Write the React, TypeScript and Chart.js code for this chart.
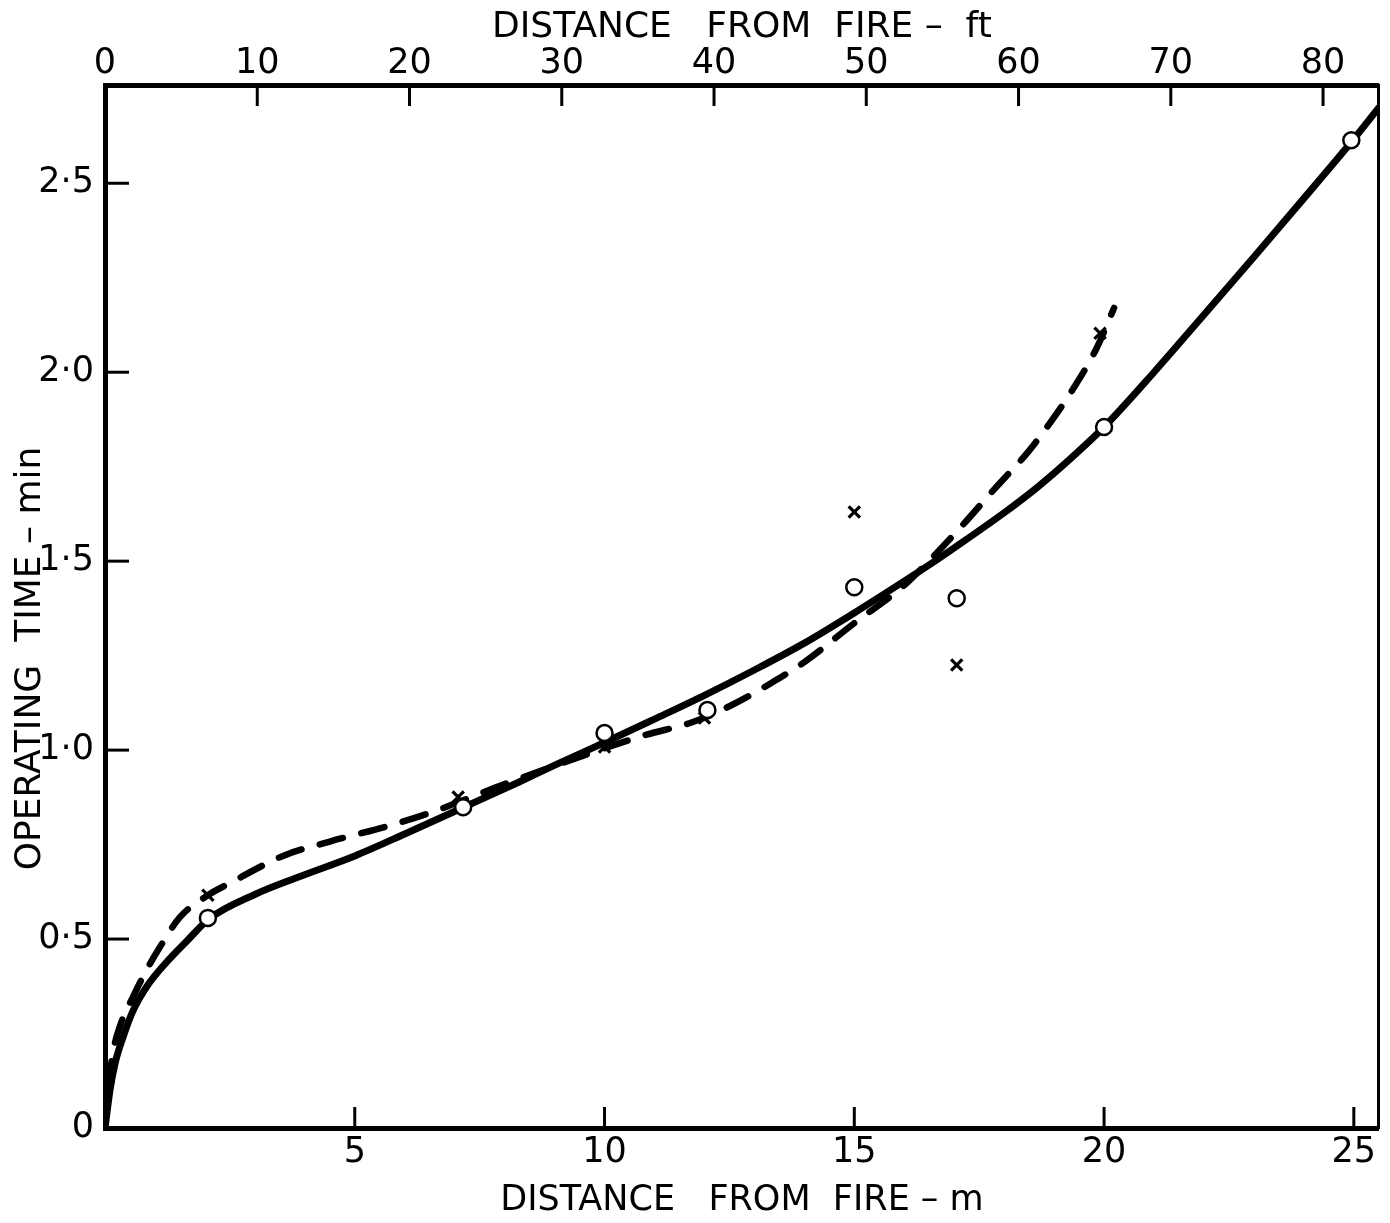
import React, { useEffect, useRef } from 'react';
import { Chart, registerables } from 'chart.js';

Chart.register(...registerables);

const FONT = '"DejaVu Sans", sans-serif';

// Solid curve (distance m, operating time min)
const solidX = [0, 0.1, 0.2, 0.36, 0.56, 0.84, 1.24, 1.64, 2.08, 3.0, 3.89, 5.0, 6.0, 7.17, 8.28, 9.08, 10.0, 11.0, 12.0, 13.0, 14.0, 15.0, 16.0, 16.5, 17.0, 18.0, 18.66, 19.3, 20.0, 21.0, 22.0, 23.0, 24.0, 25.0, 25.5];
const solidY = [0, 0.10, 0.17, 0.24, 0.31, 0.375, 0.44, 0.495, 0.553, 0.618, 0.665, 0.72, 0.778, 0.848, 0.915, 0.965, 1.02, 1.082, 1.145, 1.212, 1.283, 1.363, 1.447, 1.49, 1.535, 1.628, 1.695, 1.768, 1.855, 2.0, 2.152, 2.305, 2.46, 2.617, 2.70];

// Dashed curve
const dashX = [0, 0.08, 0.16, 0.3, 0.56, 0.84, 1.1, 1.5, 2.06, 2.56, 3.09, 3.6, 4.5, 5.69, 6.55, 7.07, 8.0, 9.0, 10.0, 10.82, 11.74, 12.53, 13.33, 14.0, 15.0, 16.0, 16.47, 17.2, 17.8, 18.46, 18.86, 19.4, 19.86, 20.2];
const dashY = [0, 0.12, 0.2, 0.27, 0.347, 0.42, 0.479, 0.558, 0.616, 0.652, 0.69, 0.722, 0.758, 0.80, 0.836, 0.862, 0.91, 0.958, 1.005, 1.04, 1.073, 1.118, 1.177, 1.233, 1.336, 1.436, 1.497, 1.60, 1.69, 1.786, 1.855, 1.96, 2.066, 2.17];

// Open-circle observations
const circleX = [2.06, 7.17, 10.0, 12.06, 15.0, 17.05, 20.0, 24.95];
const circleY = [0.556, 0.849, 1.045, 1.106, 1.431, 1.402, 1.855, 2.614];

// Cross observations
const crossX = [2.06, 7.07, 10.0, 12.0, 15.0, 17.05, 19.92];
const crossY = [0.616, 0.876, 1.008, 1.085, 1.63, 1.225, 2.103];

// Axes
const mTicks = [5, 10, 15, 20, 25];
const ftTicks = [0, 10, 20, 30, 40, 50, 60, 70, 80];
const timeTicks = [0, 0.5, 1, 1.5, 2, 2.5];
const timeLabels = ['0', '0·5', '1·0', '1·5', '2·0', '2·5'];
const X_MAX_M = 25.5;
const Y_MAX = 2.76;
const M_PER_FT = 0.3048;

const xTitle = 'DISTANCE   FROM  FIRE – m';
const x2Title = 'DISTANCE   FROM  FIRE –  ft';
const yTitle = 'OPERATING  TIME – min';

const pts = (xs: number[], ys: number[]) => xs.map((x, i) => ({ x, y: ys[i] }));

const inwardTicks = {
  id: 'inwardTicks',
  afterDraw(chart: any) {
    const { ctx, chartArea: a, scales } = chart;
    ctx.save();
    ctx.strokeStyle = '#000';
    ctx.lineWidth = 3;
    ctx.lineCap = 'butt';
    const line = (x1: number, y1: number, x2: number, y2: number) => {
      ctx.beginPath();
      ctx.moveTo(x1, y1);
      ctx.lineTo(x2, y2);
      ctx.stroke();
    };
    for (const v of mTicks) {
      const px = scales.x.getPixelForValue(v);
      line(px, a.bottom, px, a.bottom - 21);
    }
    for (const v of ftTicks) {
      if (v === 0) continue;
      const px = scales.x2.getPixelForValue(v);
      line(px, a.top, px, a.top + 21);
    }
    for (const v of timeTicks) {
      if (v === 0) continue;
      const py = scales.y.getPixelForValue(v);
      line(a.left, py, a.left + 24, py);
    }
    ctx.restore();
  },
};

const yTitlePlugin = {
  id: 'yTitle',
  afterDraw(chart: any) {
    const { ctx, chartArea: a } = chart;
    ctx.save();
    ctx.translate(31, (a.top + a.bottom) / 2 + 52);
    ctx.rotate(-Math.PI / 2);
    ctx.font = `36px ${FONT}`;
    ctx.fillStyle = '#000';
    ctx.textAlign = 'center';
    ctx.textBaseline = 'middle';
    ctx.fillText(yTitle, 0, 0);
    ctx.restore();
  },
};

export default function App() {
  const ref = useRef<HTMLCanvasElement | null>(null);

  useEffect(() => {
    if (!ref.current) return;
    const tickFont = { family: FONT, size: 35 };
    const chart = new Chart(ref.current, {
      type: 'scatter',
      data: {
        datasets: [
          {
            label: 'circles',
            data: pts(circleX, circleY),
            showLine: false,
            pointStyle: 'circle',
            pointRadius: 8,
            pointBackgroundColor: '#fff',
            pointBorderColor: '#000',
            pointBorderWidth: 2.5,
            order: 0,
          },
          {
            label: 'crosses',
            data: pts(crossX, crossY),
            showLine: false,
            pointStyle: 'crossRot',
            pointRadius: 8,
            pointBorderColor: '#000',
            pointBorderWidth: 3.2,
            order: 0,
          },
          {
            label: 'solid',
            data: pts(solidX, solidY),
            showLine: true,
            borderColor: '#000',
            borderWidth: 7,
            pointRadius: 0,
            cubicInterpolationMode: 'monotone',
            borderCapStyle: 'round',
            borderJoinStyle: 'round',
            order: 1,
          },
          {
            label: 'dashed',
            data: pts(dashX, dashY),
            showLine: true,
            borderColor: '#000',
            borderWidth: 6.5,
            borderDash: [24, 19],
            borderCapStyle: 'round',
            pointRadius: 0,
            cubicInterpolationMode: 'monotone',
            order: 1,
          },
        ],
      } as any,
      options: {
        animation: false,
        responsive: false,
        devicePixelRatio: 1,
        layout: { padding: 0 },
        plugins: { legend: { display: false }, tooltip: { enabled: false } },
        scales: {
          x: {
            type: 'linear',
            position: 'bottom',
            min: 0,
            max: X_MAX_M,
            afterBuildTicks: (s: any) => {
              s.ticks = mTicks.map((v) => ({ value: v }));
            },
            afterFit: (s: any) => {
              s.height = 95;
            },
            grid: { display: false, drawTicks: false },
            border: { display: true, width: 5, color: '#000' },
            ticks: {
              padding: 4,
              color: '#000',
              font: tickFont,
              maxRotation: 0,
              autoSkip: false,
              callback: (v: any) => String(v),
            },
            title: {
              display: true,
              text: xTitle,
              color: '#000',
              font: { family: FONT, size: 35 },
              padding: { top: 0, bottom: 1 },
            },
          },
          x2: {
            type: 'linear',
            position: 'top',
            min: 0,
            max: X_MAX_M / M_PER_FT,
            afterBuildTicks: (s: any) => {
              s.ticks = ftTicks.map((v) => ({ value: v }));
            },
            afterFit: (s: any) => {
              s.height = 85;
            },
            grid: { display: false, drawTicks: false },
            border: { display: true, width: 5, color: '#000' },
            ticks: {
              padding: 0,
              color: '#000',
              font: tickFont,
              maxRotation: 0,
              autoSkip: false,
              callback: (v: any) => String(v),
            },
            title: {
              display: true,
              text: x2Title,
              color: '#000',
              font: { family: FONT, size: 36 },
              padding: { top: 6, bottom: 0 },
            },
          },
          y: {
            type: 'linear',
            position: 'left',
            min: 0,
            max: Y_MAX,
            afterBuildTicks: (s: any) => {
              s.ticks = timeTicks.map((v) => ({ value: v }));
            },
            afterFit: (s: any) => {
              s.width = 105;
            },
            grid: { display: false, drawTicks: false },
            border: { display: true, width: 5, color: '#000' },
            ticks: {
              padding: 11,
              color: '#000',
              font: tickFont,
              autoSkip: false,
              callback: (v: any) => timeLabels[timeTicks.indexOf(Number(v))] ?? '',
            },
          },
          y2: {
            type: 'linear',
            position: 'right',
            min: 0,
            max: Y_MAX,
            afterFit: (s: any) => {
              s.width = 7;
            },
            grid: { display: false, drawTicks: false },
            border: { display: true, width: 3, color: '#000' },
            ticks: { display: false },
          },
        },
      } as any,
      plugins: [inwardTicks, yTitlePlugin],
    });
    return () => chart.destroy();
  }, []);

  return (
    <div style={{ position: 'absolute', left: 0, top: 0, width: 1390, height: 1223, background: '#fff' }}>
      <canvas ref={ref} width={1390} height={1223} />
    </div>
  );
}
